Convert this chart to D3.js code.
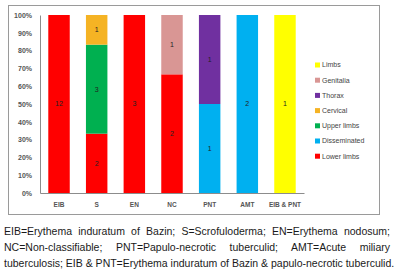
<!DOCTYPE html>
<html>
<head>
<meta charset="utf-8">
<script src="https://cdn.jsdelivr.net/npm/d3@7"></script>
<style>
  body { margin: 0; background: #fff; }
  #chart { position: absolute; left: 0; top: 0; }
  .caption {
    position: absolute; left: 4px; top: 223px; width: 386px;
    font-family: "Liberation Sans", Arial, sans-serif; font-size: 10.5px;
    line-height: 16.2px; color: #1a1a1a;
  }
  .caption div { text-align: justify; text-align-last: justify; white-space: nowrap; }
</style>
</head>
<body>
<div id="chart"></div>
<div class="caption">
  <div>EIB=Erythema induratum of Bazin; S=Scrofuloderma; EN=Erythema nodosum;</div>
  <div>NC=Non-classifiable; PNT=Papulo-necrotic tuberculid; AMT=Acute miliary</div>
  <div>tuberculosis; EIB &amp; PNT=Erythema induratum of Bazin &amp; papulo-necrotic tuberculid.</div>
</div>
<script>
// categories and series (stack order, bottom to top)
const categories = ['EIB', 'S', 'EN', 'NC', 'PNT', 'AMT', 'EIB & PNT'];
const series = ['Lower limbs', 'Disseminated', 'Upper limbs', 'Cervical', 'Thorax', 'Genitalia', 'Limbs'];
const lowerLimbs   = [12, 2, 3, 2, 0, 0, 0];
const disseminated = [0, 0, 0, 0, 1, 2, 0];
const upperLimbs   = [0, 3, 0, 0, 0, 0, 0];
const cervical     = [0, 1, 0, 0, 0, 0, 0];
const thorax       = [0, 0, 0, 0, 1, 0, 0];
const genitalia    = [0, 0, 0, 1, 0, 0, 0];
const limbs        = [0, 0, 0, 0, 0, 0, 1];
const yTicks = [0, 0.1, 0.2, 0.3, 0.4, 0.5, 0.6, 0.7, 0.8, 0.9, 1];

const colors = ['#ff0000', '#00b0f0', '#00b050', '#f5b324', '#7030a0', '#d99694', '#ffff00'];
const values = [lowerLimbs, disseminated, upperLimbs, cervical, thorax, genitalia, limbs];

const data = categories.map((c, i) => {
    const row = {cat: c};
    series.forEach((s, j) => row[s] = values[j][i]);
    return row;
});

const svg = d3.select('#chart').append('svg')
    .attr('width', 394)
    .attr('height', 220);

// outer frame
svg.append('rect')
    .attr('x', 8.5).attr('y', 5.5)
    .attr('width', 371).attr('height', 209)
    .attr('fill', 'none')
    .attr('stroke', '#9a9a9a');

const xScale = d3.scaleBand().domain(categories).range([40, 304]).paddingInner(0.43).paddingOuter(0.22);
const yScale = d3.scaleLinear().domain([0, 1]).range([193, 15]);
const color = d3.scaleOrdinal().domain(series).range(colors);

const stack = d3.stack().keys(series).offset(d3.stackOffsetExpand);
const stacked = stack(data);

const layers = svg.selectAll('.layer')
    .data(stacked)
    .enter().append('g')
    .attr('class', 'layer')
    .attr('fill', d => color(d.key));

layers.selectAll('rect')
    .data(d => d)
    .enter().append('rect')
    .attr('x', d => xScale(d.data.cat))
    .attr('y', d => yScale(d[1]))
    .attr('width', xScale.bandwidth())
    .attr('height', d => yScale(d[0]) - yScale(d[1]));

// value labels
stacked.forEach(layer => {
    layer.forEach(d => {
        const v = d.data[layer.key];
        if (!v) return;
        svg.append('text')
            .attr('x', xScale(d.data.cat) + xScale.bandwidth() / 2)
            .attr('y', (yScale(d[0]) + yScale(d[1])) / 2)
            .attr('dy', '0.35em')
            .attr('text-anchor', 'middle')
            .style('font-family', 'Liberation Sans, Arial, sans-serif')
            .style('font-size', '7px')
            .style('fill', '#222')
            .text(v);
    });
});

// axes
const yAxis = svg.append('g')
    .attr('transform', 'translate(40,0)')
    .call(d3.axisLeft(yScale).tickValues(yTicks).tickFormat(d3.format('.0%')).tickSize(0).tickPadding(8));
yAxis.select('.domain').attr('stroke', '#8c8c8c');
yAxis.selectAll('text')
    .style('font-family', 'Liberation Sans, Arial, sans-serif')
    .style('font-size', '7px')
    .style('font-weight', 'bold')
    .style('fill', '#555');

const xAxis = svg.append('g')
    .attr('transform', 'translate(0,193)')
    .call(d3.axisBottom(xScale).tickSize(0).tickPadding(9));
xAxis.select('.domain').attr('stroke', '#8c8c8c');
xAxis.selectAll('text')
    .style('font-family', 'Liberation Sans, Arial, sans-serif')
    .style('font-size', '6.5px')
    .style('font-weight', 'bold')
    .style('fill', '#555');

// legend (top to bottom reverses stack order)
const legend = svg.append('g').attr('transform', 'translate(315,65)');
const legendItems = legend.selectAll('.item')
    .data(series.slice().reverse())
    .enter().append('g')
    .attr('class', 'item')
    .attr('transform', (d, i) => `translate(0,${i * 15.2})`);
legendItems.append('rect')
    .attr('x', 0).attr('y', -2.5)
    .attr('width', 5).attr('height', 5)
    .attr('fill', d => color(d));
legendItems.append('text')
    .attr('x', 7).attr('y', 0)
    .attr('dy', '0.35em')
    .style('font-family', 'Liberation Sans, Arial, sans-serif')
    .style('font-size', '7px')
    .style('fill', '#444')
    .text(d => d);
</script>
</body>
</html>
